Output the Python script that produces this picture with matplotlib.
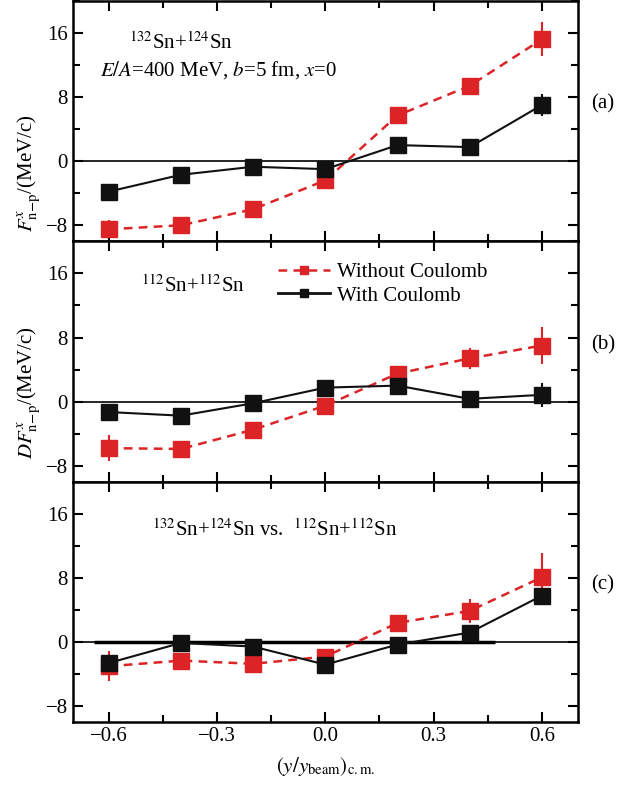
import numpy as np
import matplotlib
matplotlib.use("Agg")
import matplotlib.pyplot as plt
from matplotlib.ticker import MultipleLocator
from matplotlib.lines import Line2D

plt.rcParams['font.family'] = ['Liberation Serif', 'DejaVu Serif']
plt.rcParams['mathtext.fontset'] = 'stix'

# rapidity bins
rap = [-0.6, -0.4, -0.2, 0.0, 0.2, 0.4, 0.6]

# (a) 132Sn+124Sn
a_nocoul = [-8.5, -8.0, -6.0, -2.4, 5.7, 9.4, 15.2]
a_nocoul_err = [1.1, 0.6, 0.5, 0.5, 0.5, 0.5, 2.1]
a_coul = [-3.8, -1.7, -0.7, -1.0, 2.0, 1.75, 7.0]
a_coul_err = [0.5, 0.5, 0.5, 0.5, 0.5, 0.5, 1.4]

# (b) 112Sn+112Sn
b_nocoul = [-5.8, -5.9, -3.5, -0.5, 3.5, 5.4, 7.0]
b_nocoul_err = [1.6, 0.6, 0.5, 0.5, 0.5, 1.3, 2.3]
b_coul = [-1.3, -1.75, -0.2, 1.75, 2.0, 0.35, 0.85]
b_coul_err = [0.5, 0.5, 0.5, 0.5, 0.5, 0.5, 1.5]

# (c) difference
c_nocoul = [-3.0, -2.3, -2.7, -1.8, 2.4, 3.9, 8.1]
c_nocoul_err = [1.9, 0.8, 0.5, 0.5, 0.5, 1.5, 3.0]
c_coul = [-2.6, -0.1, -0.55, -2.8, -0.3, 1.2, 5.8]
c_coul_err = [0.5, 0.5, 0.5, 0.5, 0.5, 0.5, 0.8]

panels = [
    (a_nocoul, a_nocoul_err, a_coul, a_coul_err, '(a)'),
    (b_nocoul, b_nocoul_err, b_coul, b_coul_err, '(b)'),
    (c_nocoul, c_nocoul_err, c_coul, c_coul_err, '(c)'),
]

red = '#dc2427'
blk = '#111111'
dash = (0, (3.5, 2.5))

fig, axes = plt.subplots(3, 1, figsize=(6.32, 7.86), dpi=100, sharex=True)
fig.subplots_adjust(left=0.115, right=0.9146, top=0.999, bottom=0.081, hspace=0)

for ax, (rn, rne, bc, bce, tag) in zip(axes, panels):
    ax.axhline(0, color='black', lw=1.2, zorder=1)
    ax.errorbar(rap, rn, yerr=rne, color=red, ls=dash, lw=1.8,
                marker='s', ms=11, mfc=red, mec=red, elinewidth=1.5, capsize=0,
                zorder=3)
    ax.errorbar(rap, bc, yerr=bce, color=blk, ls='-', lw=1.5,
                marker='s', ms=11, mfc=blk, mec=blk, elinewidth=1.5, capsize=0,
                zorder=4)
    ax.set_xlim(-0.7, 0.7)
    ax.set_ylim(-10, 20)
    ax.xaxis.set_major_locator(MultipleLocator(0.3))
    ax.xaxis.set_minor_locator(MultipleLocator(0.15))
    ax.yaxis.set_major_locator(MultipleLocator(8))
    ax.yaxis.set_minor_locator(MultipleLocator(4))
    ax.tick_params(which='both', direction='in', top=True, right=True,
                   labelsize=15, width=1.5)
    ax.tick_params(which='major', length=7)
    ax.tick_params(which='minor', length=5)
    for s in ax.spines.values():
        s.set_linewidth(1.8)
    ax.text(1.025, 0.57, tag, transform=ax.transAxes, fontsize=15,
            ha='left', va='center')
    ax.set_yticks([-8, 0, 8, 16])
    ax.set_yticklabels(['\u22128', '0', '8', '16'])

axes[2].hlines(0, -0.64, 0.47, color='black', lw=2.5, zorder=2)
axes[2].set_xticks([-0.6, -0.3, 0.0, 0.3, 0.6])
axes[2].set_xticklabels(['\u22120.6', '\u22120.3', '0.0', '0.3', '0.6'])

axes[0].text(-0.4, 14.7, r'$^{132}$Sn+$^{124}$Sn', fontsize=15, ha='center', va='center')
axes[0].text(-0.625, 11.3, r'$E/A$=400 MeV, $b$=5 fm, $x$=0', fontsize=15,
             ha='left', va='center')
axes[1].text(-0.366, 14.4, r'$^{112}$Sn+$^{112}$Sn', fontsize=15, ha='center', va='center')
axes[2].text(-0.48, 14.0, r'$^{132}$Sn+$^{124}$Sn vs.  $^{112}$Sn+$^{112}$Sn',
             fontsize=15, ha='left', va='center')

handles = [
    Line2D([], [], color=red, ls=dash, lw=1.8, marker='s', ms=6, mfc=red, mec=red),
    Line2D([], [], color=blk, ls='-', lw=2.0, marker='s', ms=6, mfc=blk, mec=blk),
]
axes[1].legend(handles, ['Without Coulomb', 'With Coulomb'], loc='upper left',
               bbox_to_anchor=(0.37, 0.99), frameon=False, fontsize=15,
               handlelength=2.5, handletextpad=0.3, labelspacing=0.2)

fig.text(0.045, 0.78, r'$F^{x}_{\mathrm{n\!-\!p}}$/(MeV/c)', rotation=90,
         fontsize=15, ha='center', va='center')
fig.text(0.045, 0.50, r'$DF^{x}_{\mathrm{n\!-\!p}}$/(MeV/c)', rotation=90,
         fontsize=15, ha='center', va='center')
fig.text(0.515, 0.025, r'$(y/y_{\mathrm{beam}})_{\mathrm{c.m.}}$', fontsize=15,
         ha='center', va='center')

fig.savefig('out.png', dpi=100)
